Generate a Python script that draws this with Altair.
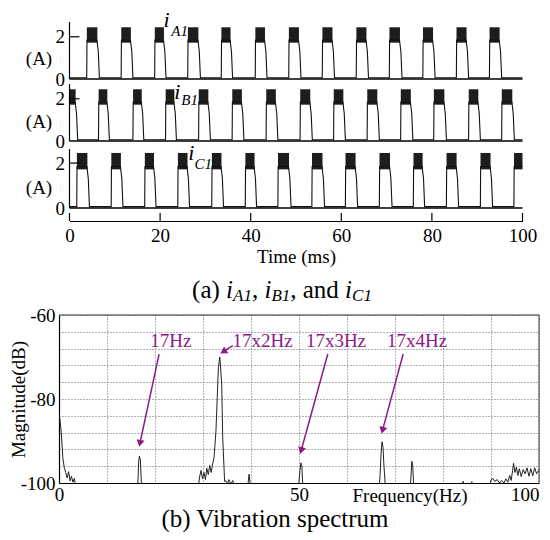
import math
import altair as alt
import pandas as pd

FONT = "Liberation Serif"
PURPLE = "#8b1a89"

# ---------------- (a) phase currents: pulse edges (ms) ----------------
A_ON = [3.8, 11.4, 18.8, 26.1, 33.5, 41.0, 48.4, 55.8, 63.3, 70.6, 78.0, 85.4, 92.7]
A_OFF = [6.6, 14.0, 21.3, 28.9, 36.0, 43.6, 51.1, 58.5, 66.0, 73.4, 80.7, 88.1, 95.4]
B_ON = [0.0, 6.4, 14.0, 21.2, 28.5, 35.9, 43.4, 50.9, 58.3, 65.7, 73.1, 80.4, 88.1, 95.4]
B_OFF = [1.8, 8.8, 16.4, 23.6, 31.1, 38.5, 46.0, 53.6, 60.9, 68.4, 75.8, 83.2, 90.7, 98.2]
C_ON = [1.6, 9.2, 16.6, 23.9, 31.4, 38.8, 46.0, 53.5, 60.9, 68.4, 75.9, 83.2, 90.7, 98.1]
C_OFF = [4.4, 11.8, 19.1, 26.5, 34.0, 41.3, 48.9, 56.3, 63.6, 71.2, 78.4, 85.9, 93.4, 100.0]
OFF_LEVEL = 0.06      # A
ON_LEVEL = 1.85       # A
TAIL_LEVEL = 1.3      # A
RIPPLE_LO = 1.72      # A
RIPPLE_HI = 2.45      # A
T_START, T_END = 0.0, 100.0
CUR_TICKS = [0, 2]
TIME_TICKS = [0, 20, 40, 60, 80, 100]
PANEL_SUB = ["A1", "B1", "C1"]
# label positions (time ms, current A) for "i" and its subscript
LAB_I_T = [21.4, 23.8, 26.9]
LAB_I_Y = [2.8, 2.32, 2.43]
LAB_S_T = [24.3, 26.5, 29.5]
LAB_S_Y = [2.27, 1.94, 1.98]

# ---------------- (b) vibration spectrum (Hz, dB) ----------------
SPEC_F = [0.0, 0.2, 0.45, 0.8, 1.1, 1.4, 1.7, 2.0, 2.3, 2.6, 2.9, 3.2, 3.5,
          16.4, 16.6, 16.75, 16.95, 17.2,
          29.0, 29.3, 29.6, 29.9, 30.2, 30.5, 30.8, 31.1, 31.4, 31.7, 32.0,
          32.3, 32.7, 33.2, 33.5, 33.9, 34.1, 34.5,
          34.8, 35.1, 35.4, 35.8, 36.2, 36.6,
          39.3, 39.6, 39.9,
          49.9, 50.2, 50.4, 50.6, 50.8,
          66.7, 66.9, 67.1, 67.3, 67.5, 67.7, 68.0,
          73.2, 73.5, 73.7, 73.9,
          83.8, 84.2, 84.5, 85.7, 86.0, 86.4,
          89.6, 90.0, 90.4, 90.8, 91.3, 91.8, 92.2, 92.7, 93.1, 93.5, 93.9, 94.2,
          94.5, 94.7, 95.0, 95.3, 95.6, 95.9, 96.3, 96.7, 97.1, 97.5, 97.9, 98.3,
          98.7, 99.1, 99.5, 100.0]
SPEC_DB = [-83.6, -85.0, -87.6, -94.0, -96.3, -97.5, -98.8, -97.3, -99.5, -98.4, -99.8, -98.9, -101,
           -101, -95.0, -93.6, -94.5, -101,
           -101, -98.5, -97.0, -99.0, -97.5, -99.2, -96.5, -98.0, -95.8, -97.5, -95.5,
           -94.0, -87.6, -72.5, -70.0, -76.5, -89.0, -99.6,
           -99.5, -100.3, -99.2, -100.3, -99.4, -101,
           -101, -97.9, -101,
           -101, -97.0, -95.2, -96.0, -101,
           -101, -98.0, -93.0, -90.2, -91.5, -96.0, -101,
           -101, -94.8, -96.0, -101,
           -101, -99.6, -101, -101, -99.7, -101,
           -101, -99.3, -98.9, -99.6, -99.2, -100.0, -99.4, -100.0, -99.0, -99.8, -98.2, -99.4,
           -97.0, -95.3, -97.5, -96.2, -98.2, -96.6, -98.5, -96.8, -97.8, -96.4, -98.4, -96.6,
           -98.3, -96.4, -97.8, -96.8]
FREQ_GRID = list(range(0, 101, 10))
DB_GRID = list(range(-100, -59, 4))
ANN_TEXT = ["17Hz", "17x2Hz", "17x3Hz", "17x4Hz"]
ANN_X = [23.3, 42.4, 57.7, 74.6]
ANN_Y = [-66.2, -66.2, -66.2, -66.2]
ARROW_X0 = [20.85, 36.2, 56.0, 71.7]
ARROW_Y0 = [-69.3, -67.3, -69.3, -69.3]
ARROW_X1 = [16.7, 33.6, 50.25, 67.2]
ARROW_Y1 = [-91.4, -69.2, -93.1, -88.3]

CAP_A_TEXT = ["(a) ", "i", "A1", ", ", "i", "B1", ", and ", "i", "C1"]
CAP_A_KIND = ["r", "i", "s", "r", "i", "s", "r", "i", "s"]
CAP_B = "(b) Vibration spectrum"

# ---------------- layout ----------------
W_TOP = 464
X_RANGE = [10.5, 463.5]
PANEL_H = [57, 57, 62]
PANEL_YMAX = [2.7, 2.7, 2.76]
PANEL_YTOP = [2.7, 2.7, 2.62]
PANEL_TITLE_Y = [36, 37, 41]
W_SP, H_SP = 480, 168
GAP_H = 97
FS = 19
CAP_FS, CAP_SUB_FS = 25, 17


def wave_df(on, off):
    pts = []
    if on[0] > T_START:
        pts.append((T_START, OFF_LEVEL))
    for a, b in zip(on, off):
        if a > T_START:
            pts.append((a, OFF_LEVEL))
            pts.append((a + 0.06, ON_LEVEL))
        else:
            pts.append((a, ON_LEVEL))
        if b < T_END:
            pts.append((b - 0.55, ON_LEVEL))
            pts.append((b - 0.25, TAIL_LEVEL))
            pts.append((b, OFF_LEVEL))
        else:
            pts.append((b, ON_LEVEL))
    if off[-1] < T_END:
        pts.append((T_END, OFF_LEVEL))
    df = pd.DataFrame(pts, columns=["t", "i"])
    df["n"] = range(len(df))
    return df


def ripple_df(on, off):
    rows = []
    for k, (a, b) in enumerate(zip(on, off)):
        t0 = a + 0.03
        t1 = b if b >= T_END else b - 0.45
        rows.append(dict(t=t0, lo=RIPPLE_LO, hi=RIPPLE_HI, k=k))
        rows.append(dict(t=t1, lo=RIPPLE_LO, hi=RIPPLE_HI, k=k))
    return pd.DataFrame(rows)


def panel(idx, on, off, with_time_axis):
    h = PANEL_H[idx]
    xs = alt.Scale(domain=[T_START, T_END], range=X_RANGE, nice=False, zero=False)
    ys = alt.Scale(domain=[0, PANEL_YMAX[idx]], nice=False, zero=False)
    yaxis = alt.Axis(values=CUR_TICKS, tickCount=len(CUR_TICKS), offset=-X_RANGE[0], domain=False,
                     ticks=False, grid=False,
                     labelFont=FONT, labelFontSize=FS, labelColor="black", labelPadding=5,
                     title="(A)", titleAngle=0, titleX=-31, titleY=PANEL_TITLE_Y[idx],
                     titleFont=FONT, titleFontSize=FS, titleFontWeight="normal",
                     titleAlign="center", titleBaseline="middle", titleColor="black")
    if with_time_axis:
        xaxis = alt.Axis(values=TIME_TICKS, tickCount=len(TIME_TICKS), offset=13, ticks=False, grid=False,
                         domainColor="black", domainWidth=1.2,
                         labelFont=FONT, labelFontSize=FS, labelColor="black", labelPadding=5,
                         labelFlush=False, labelOverlap=False,
                         title="Time (ms)", titleX=(X_RANGE[0] + X_RANGE[1]) / 2, titleY=35,
                         titleFont=FONT, titleFontSize=FS, titleFontWeight="normal",
                         titleBaseline="middle", titleAlign="center", titleColor="black")

        def X(f, **kw):
            return alt.X(f, **kw)
    else:
        xaxis = None

        def X(f, **kw):
            return alt.X(f, axis=None, **kw)

    wave = alt.Chart(wave_df(on, off)).mark_line(color="#111", strokeWidth=1.1).encode(
        x=alt.X("t:Q", scale=xs, axis=xaxis),
        y=alt.Y("i:Q", scale=ys, axis=yaxis),
        order="n:Q",
    )
    ripple = alt.Chart(ripple_df(on, off)).mark_area(color="#111", opacity=0.95).encode(
        x=X("t:Q"), y="lo:Q", y2="hi:Q", detail="k:N")
    base = alt.Chart(pd.DataFrame({"t0": [T_START], "t1": [T_END], "v": [0.0]})).mark_rule(
        color="black", strokeWidth=1.4).encode(x=X("t0:Q"), x2="t1:Q", y="v:Q")
    left = alt.Chart(pd.DataFrame({"t": [T_START], "lo": [0.0], "hi": [PANEL_YTOP[idx]]})).mark_rule(
        color="black", strokeWidth=1.2).encode(x=X("t:Q"), y="lo:Q", y2="hi:Q")
    tick2 = alt.Chart(pd.DataFrame({"t0": [T_START], "t1": [2.2], "v": [2.0]})).mark_rule(
        color="black", strokeWidth=1.2).encode(x=X("t0:Q"), x2="t1:Q", y="v:Q")
    lab_i = alt.Chart(pd.DataFrame({"t": [LAB_I_T[idx]], "v": [LAB_I_Y[idx]], "s": ["i"]})).mark_text(
        font=FONT, fontSize=22, fontStyle="italic", color="black").encode(
        x=X("t:Q"), y="v:Q", text="s:N")
    lab_s = alt.Chart(pd.DataFrame({"t": [LAB_S_T[idx]], "v": [LAB_S_Y[idx]], "s": [PANEL_SUB[idx]]})).mark_text(
        font=FONT, fontSize=15, fontStyle="italic", color="black").encode(
        x=X("t:Q"), y="v:Q", text="s:N")
    layers = [wave, ripple, base, left, tick2, lab_i, lab_s]
    if with_time_axis:
        ticks = alt.Chart(pd.DataFrame({"t": TIME_TICKS})).mark_rule(color="black", strokeWidth=1.2).encode(
            x="t:Q", y=alt.value(h + 13 - 8), y2=alt.value(h + 13))
        layers.append(ticks)
    return alt.layer(*layers).properties(width=W_TOP, height=h)


# ---------------- caption (a) ----------------
TIMES_EM = {"(": 0.333, ")": 0.333, "a": 0.444, " ": 0.25, ",": 0.25, "n": 0.5, "d": 0.5,
            "i": 0.278, "A": 0.611, "B": 0.611, "C": 0.667, "1": 0.5}


def run_width(s, size):
    return sum(TIMES_EM.get(c, 0.5) for c in s) * size


sizes = [CAP_SUB_FS if k == "s" else CAP_FS for k in CAP_A_KIND]
widths = [run_width(s, z) for s, z in zip(CAP_A_TEXT, sizes)]
cap_center = 223.0
x0 = cap_center - sum(widths) / 2
xs_run = []
for w in widths:
    xs_run.append(x0)
    x0 += w
cap_df = pd.DataFrame({"s": CAP_A_TEXT, "kind": CAP_A_KIND, "x": xs_run})
cap_y = 77


def cap_layer(kind, size, style, dy):
    return alt.Chart(cap_df).transform_filter(alt.datum.kind == kind).mark_text(
        font=FONT, fontSize=size, fontStyle=style, align="left", baseline="middle", dy=dy, color="black"
    ).encode(x=alt.X("x:Q", scale=None), y=alt.value(cap_y), text="s:N")


gap = alt.layer(
    cap_layer("r", CAP_FS, "normal", 0),
    cap_layer("i", CAP_FS, "italic", 0),
    cap_layer("s", CAP_SUB_FS, "italic", 6),
).properties(width=W_TOP, height=GAP_H)

# ---------------- spectrum ----------------
spec_df = pd.DataFrame({"f": SPEC_F, "db": SPEC_DB})
spec_df["n"] = range(len(spec_df))
px_f = W_SP / 100.0
px_db = H_SP / 40.0
arr = []
for x0_, y0_, x1_, y1_ in zip(ARROW_X0, ARROW_Y0, ARROW_X1, ARROW_Y1):
    dx = (x1_ - x0_) * px_f
    dy = -(y1_ - y0_) * px_db
    L = math.hypot(dx, dy)
    ux, uy = dx / L, dy / L
    ang = math.degrees(math.atan2(dx, -dy)) % 360
    back = 3.6
    hx = x1_ - back * ux / px_f
    hy = y1_ + back * uy / px_db
    arr.append(dict(x0=x0_, y0=y0_, hx=hx, hy=hy, ang=ang))
arr_df = pd.DataFrame(arr)

sx = alt.Scale(domain=[0, 100], nice=False, zero=False)
sy = alt.Scale(domain=[-100, -60], nice=False, zero=False)
x_ax = alt.Axis(values=FREQ_GRID, tickCount=len(FREQ_GRID), grid=True, gridDash=[1, 2],
                gridColor="#666", gridWidth=1,
                ticks=False, domainColor="black", domainWidth=1.2,
                labelExpr="datum.value % 50 === 0 ? '' + datum.value : ''",
                labelAlign={"condition": {"test": "datum.value === 100", "value": "right"}, "value": "center"},
                labelFont=FONT, labelFontSize=FS, labelColor="black", labelPadding=2,
                labelFlush=False, labelOverlap=False,
                title="Frequency(Hz)", titleX=350.5, titleY=12, titleFont=FONT, titleFontSize=FS,
                titleFontWeight="normal", titleBaseline="middle", titleAlign="center", titleColor="black")
y_ax = alt.Axis(values=DB_GRID, tickCount=len(DB_GRID), grid=True, gridDash=[1, 2],
                gridColor="#666", gridWidth=1,
                ticks=False, domainColor="black", domainWidth=1.2,
                labelExpr="datum.value % 20 === 0 ? '' + datum.value : ''",
                labelFont=FONT, labelFontSize=FS, labelColor="black", labelPadding=4,
                labelOverlap=False,
                title="Magnitude(dB)", titleX=-41, titleY=H_SP / 2, titleAngle=270,
                titleFont=FONT, titleFontSize=FS, titleFontWeight="normal",
                titleBaseline="middle", titleAlign="center", titleColor="black")

spec_line = alt.Chart(spec_df).mark_line(color="#222", strokeWidth=1, clip=True).encode(
    x=alt.X("f:Q", scale=sx, axis=x_ax), y=alt.Y("db:Q", scale=sy, axis=y_ax), order="n:Q")
frame_top = alt.Chart(pd.DataFrame({"f0": [0], "f1": [100], "v": [-60]})).mark_rule(
    color="#333", strokeWidth=1).encode(x="f0:Q", x2="f1:Q", y="v:Q")
frame_right = alt.Chart(pd.DataFrame({"f": [100], "lo": [-100], "hi": [-60]})).mark_rule(
    color="#333", strokeWidth=1).encode(x="f:Q", y="lo:Q", y2="hi:Q")
ann = alt.Chart(pd.DataFrame({"f": ANN_X, "v": ANN_Y, "s": ANN_TEXT})).mark_text(
    font=FONT, fontSize=FS, color=PURPLE).encode(x="f:Q", y="v:Q", text="s:N")
shafts = alt.Chart(arr_df).mark_rule(color=PURPLE, strokeWidth=1.5).encode(
    x="x0:Q", y="y0:Q", x2="hx:Q", y2="hy:Q")
heads = alt.Chart(arr_df).mark_point(shape="triangle-up", filled=True, size=64, color=PURPLE, opacity=1).encode(
    x="hx:Q", y="hy:Q", angle=alt.Angle("ang:Q", scale=None))
cap_b = alt.Chart(pd.DataFrame({"s": [CAP_B]})).mark_text(
    font=FONT, fontSize=CAP_FS, color="black", baseline="middle").encode(
    x=alt.value(216), y=alt.value(H_SP + 36), text="s:N")

spec = alt.layer(spec_line, frame_top, frame_right, ann, shafts, heads, cap_b).properties(
    width=W_SP, height=H_SP)

chart = alt.vconcat(
    panel(0, A_ON, A_OFF, False),
    panel(1, B_ON, B_OFF, False),
    panel(2, C_ON, C_OFF, True),
    gap,
    spec,
    spacing=5,
    bounds="flush",
).resolve_scale(x="independent", y="independent").properties(
    padding={"left": 1, "top": 0, "right": 0, "bottom": 0}
).configure(font=FONT).configure_view(stroke="transparent", strokeWidth=0)

chart.save("out.html", embed_options={"renderer": "svg", "actions": False})
